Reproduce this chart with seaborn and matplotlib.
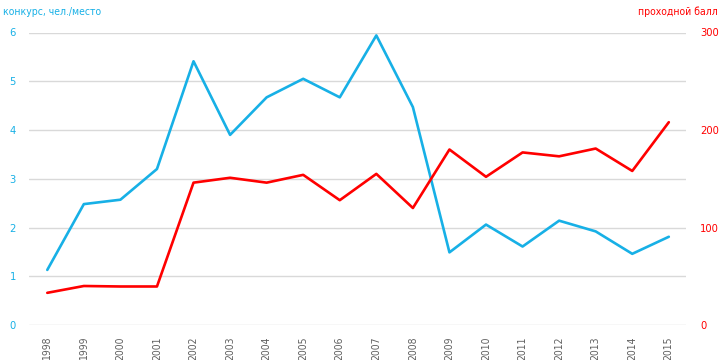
import matplotlib
matplotlib.use("Agg")
import matplotlib.pyplot as plt
import seaborn as sns
import pandas as pd

years = ["1998", "1999", "2000", "2001", "2002", "2003", "2004", "2005", "2006",
         "2007", "2008", "2009", "2010", "2011", "2012", "2013", "2014", "2015"]
competition = [1.13, 2.48, 2.57, 3.2, 5.41, 3.90, 4.67, 5.05, 4.67,
               5.94, 4.47, 1.49, 2.06, 1.61, 2.14, 1.92, 1.46, 1.81]
pass_score = [33, 40, 39.5, 39.5, 146, 151, 146, 154, 128,
              155, 120, 180, 152, 177, 173, 181, 158, 208]
left_ticks = [0, 1, 2, 3, 4, 5, 6]
right_ticks = [0, 100, 200, 300]

BLUE = "#17b0e6"
RED = "#ff0000"
GRAY = "#606060"

sns.set_theme(style="white")
plt.rcParams["font.family"] = ["DejaVu Sans"]
plt.rcParams["font.stretch"] = "condensed"

df = pd.DataFrame({"idx": range(len(years)), "year": years,
                   "comp": competition, "score": pass_score})

fig = plt.figure(figsize=(7.2, 3.6), dpi=100)
ax = fig.add_axes([29 / 720, 1 - 325 / 360, 657 / 720, 292.5 / 360])
ax2 = ax.twinx()

sns.lineplot(data=df, x="idx", y="comp", ax=ax, color=BLUE, linewidth=1.9)
sns.lineplot(data=df, x="idx", y="score", ax=ax2, color=RED, linewidth=1.9)

ax.set_xlim(-0.5, 17.47)
ax.set_ylim(0, 6)
ax2.set_ylim(0, 300)
ax.set_yticks(left_ticks)
ax2.set_yticks(right_ticks)
ax.set_xticks(range(len(years)))
ax.set_xticklabels(years, rotation=90, color=GRAY, fontsize=7.5, fontstretch="condensed")
ax.set_yticklabels([str(t) for t in left_ticks], color=BLUE, fontsize=8, fontstretch="condensed")
ax2.set_yticklabels([str(t) for t in right_ticks], color=RED, fontsize=8, fontstretch="condensed")

ax.grid(axis="y", color="#d9d9d9", linewidth=1)
ax.grid(axis="x", visible=False)
ax2.grid(False)
for a in (ax, ax2):
    for s in a.spines.values():
        s.set_visible(False)
    a.set_xlabel("")
    a.set_ylabel("")
ax.tick_params(axis="y", length=0, pad=9.5)
ax2.tick_params(axis="y", length=0, pad=10)
ax.tick_params(axis="x", length=0, pad=8)

fig.text(3 / 720, 1 - 12 / 360, "конкурс, чел./место", color=BLUE, fontsize=7.5,
         fontstretch="condensed", ha="left", va="center")
fig.text(718 / 720, 1 - 12 / 360, "проходной балл", color=RED, fontsize=7.5,
         fontstretch="condensed", ha="right", va="center")

fig.savefig("out.png", dpi=100, facecolor="white")
